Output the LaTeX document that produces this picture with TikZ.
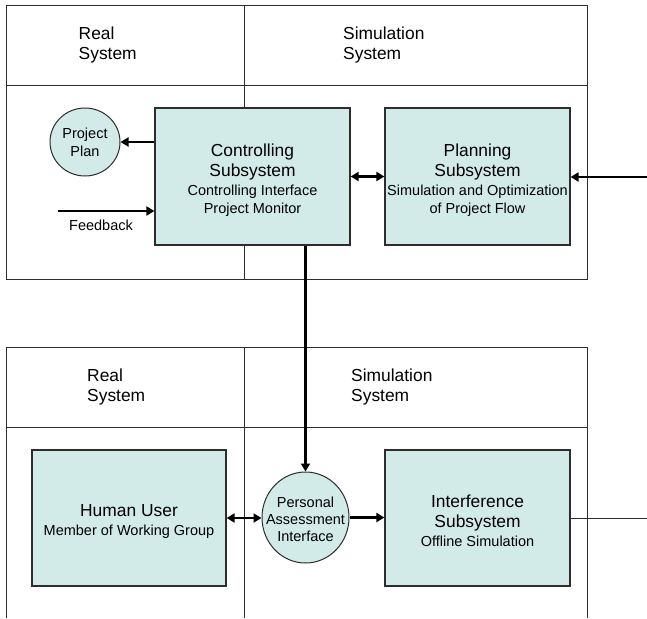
\documentclass[tikz,border=0pt]{standalone}
\usepackage{fontspec}
\setmainfont{Liberation Sans}
\usetikzlibrary{arrows.meta,shapes.geometric}
\definecolor{boxfill}{RGB}{210,235,232}
\definecolor{frameline}{RGB}{45,45,45}
\newcommand{\bigtxt}{\fontsize{17.4}{20}\selectfont}
\newcommand{\smalltxt}{\fontsize{14.5}{18}\selectfont}

\begin{document}
\begin{tikzpicture}[x=1pt,y=-1pt,
  frame/.style={draw=frameline, line width=1pt},
  subsys/.style={draw=frameline, fill=boxfill, line width=1.2pt, inner sep=0pt},
  boxtext/.style={inner sep=0pt, align=center, font=\bigtxt},
  bubble/.style={ellipse, draw=frameline, fill=boxfill, line width=1pt, inner sep=0pt, align=center, font=\smalltxt},
  tip/.tip={Triangle[length=8pt,width=9pt]},
  flow/.style={line width=2.5pt, -tip},
  both/.style={line width=2.5pt, tip-tip},
  plainlink/.style={draw=frameline, line width=1pt},
  head/.style={anchor=west, align=left, font=\bigtxt, inner sep=0pt},
  label/.style={font=\smalltxt, inner sep=0pt}
]
\useasboundingbox (0,0) rectangle (647,618);

% upper lane frame
\draw[frame] (6,6) rectangle (587,279);
\draw[frame] (6,85) -- (587,85);
\draw[frame] (244,6) -- (244,279);
\node[head] (realA) at (78.5,45.5) {Real\\System};
\node[head] (simA) at (343,45.5) {Simulation\\System};

% lower lane frame (open at the bottom)
\draw[frame] (6,618) -- (6,347) -- (587,347) -- (587,618);
\draw[frame] (6,427) -- (587,427);
\draw[frame] (244,347) -- (244,618);
\node[head] (realB) at (87,387) {Real\\System};
\node[head] (simB) at (351,387) {Simulation\\System};

% upper lane nodes
\node[subsys, minimum width=195pt, minimum height=137pt] (ctrl) at (252.5,176.5) {};
\node[boxtext] (ctrlText) at (252.5,180)
  {Controlling\\Subsystem\\[-1pt]\smalltxt Controlling Interface\\[-2pt]\smalltxt Project Monitor};
\node[subsys, minimum width=185pt, minimum height=137pt] (plan) at (477.5,176.5) {};
\node[boxtext] (planText) at (477.5,180)
  {Planning\\Subsystem\\[-1pt]\smalltxt Simulation and Optimization\\[-2pt]\smalltxt of Project Flow};
\node[bubble, minimum width=70pt, minimum height=68pt] (pplan) at (85,142) {Project\\Plan};
\node[label] (fb) at (101,225) {Feedback};

% lower lane nodes
\node[subsys, minimum width=194pt, minimum height=136pt] (human) at (129,518) {};
\node[boxtext] (humanText) at (129,521.5)
  {Human User\\[-1pt]\smalltxt Member of Working Group};
\node[subsys, minimum width=185pt, minimum height=136pt] (interf) at (477.5,518) {};
\node[boxtext] (interfText) at (477.5,520.5)
  {Interference\\Subsystem\\[-1pt]\smalltxt Offline Simulation};
\node[bubble, minimum width=87pt, minimum height=91pt] (pai) at (305.5,517.5) {};
\node[boxtext, font=\smalltxt] (paiText) at (305.5,519.5)
  {Personal\\[-1pt]Assessment\\[-1pt]Interface};

% connectors
\coordinate (fbin) at (58,211);
\coordinate (extin) at (647,177);
\coordinate (extout) at (647,518);
\draw[flow] (ctrl.west |- pplan.east) -- (pplan.east);
\draw[flow] (fbin) -- (fbin -| ctrl.west);
\draw[both] (ctrl.east) -- (plan.west);
\draw[flow] (extin) -- (extin -| plan.east);
\draw[flow] (pai.north |- ctrl.south) -- (pai.north);
\draw[both] (human.east) -- (human.east -| pai.west);
\draw[flow] (pai.east) -- (pai.east -| interf.west);
\draw[plainlink] (interf.east) -- (extout);
\end{tikzpicture}
\end{document}
